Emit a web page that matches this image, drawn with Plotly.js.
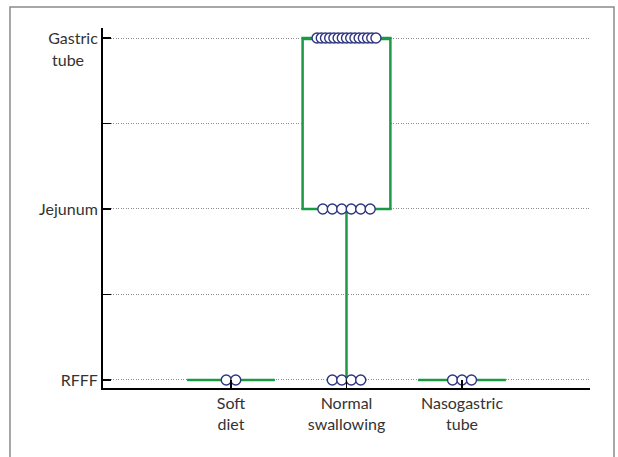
<!DOCTYPE html>
<html>
<head>
<meta charset="utf-8">
<script src="https://cdn.plot.ly/plotly-3.0.1.min.js"></script>
<style>html,body{margin:0;padding:0;background:#fff;}#chart{width:618px;height:457px;}</style>
</head>
<body>
<div id="chart"></div>
<script>
// Categories (x) and ordinal levels (y)
const categories = ['Soft<br>diet', 'Normal<br>swallowing', 'Nasogastric<br>tube'];
const levelValues = [0, 1, 2, 3, 4];
const levelLabels = ['RFFF', '', 'Jejunum', '', 'Gastric'];
// Per-patient outcome (0 = RFFF, 2 = Jejunum, 4 = Gastric tube)
const softDiet = [0, 0];
const normalSwallowing = [0, 0, 0, 0,
  2, 2, 2, 2, 2, 2,
  4, 4, 4, 4, 4, 4, 4, 4, 4, 4, 4, 4, 4, 4, 4];
const nasogastricTube = [0, 0, 0];
const groups = [softDiet, normalSwallowing, nasogastricTube];

const GREEN = '#1b9a45';
const traces = [];

// swarm offsets (derived from counts per level)
function swarm(vals, center) {
  const SP = 0.082, MAXW = 0.51;
  const byLevel = {};
  vals.forEach(v => { (byLevel[v] = byLevel[v] || []).push(v); });
  const xs = [], ys = [];
  Object.keys(byLevel).forEach(k => {
    const n = byLevel[k].length;
    const sp = n > 1 ? Math.min(SP, MAXW / (n - 1)) : 0;
    byLevel[k].forEach((v, i) => { xs.push(center + (i - (n - 1) / 2) * sp); ys.push(v); });
  });
  return {xs, ys};
}

groups.forEach((vals, gi) => {
  const pos = gi + 1;
  traces.push({
    type: 'box',
    x: vals.map(() => pos),
    y: vals,
    width: 0.76,
    boxpoints: false,
    fillcolor: '#ffffff',
    line: {color: GREEN, width: 2.5},
    whiskerwidth: 0.45,
    hoverinfo: 'skip',
    showlegend: false
  });
});
groups.forEach((vals, gi) => {
  const s = swarm(vals, gi + 1);
  traces.push({
    type: 'scatter', mode: 'markers',
    x: s.xs, y: s.ys,
    marker: {size: 10, color: '#ffffff', line: {color: '#2e3580', width: 1.4}},
    showlegend: false, hoverinfo: 'skip', cliponaxis: false
  });
});

const fontFam = 'Lato, "Open Sans", sans-serif';
const FS = 16;
const layout = {
  width: 618, height: 457,
  margin: {l: 103, r: 28, t: 28, b: 69},
  paper_bgcolor: '#ffffff', plot_bgcolor: '#ffffff',
  font: {family: fontFam, size: FS, color: '#333333'},
  xaxis: {
    range: [-0.108, 4.108],
    tickvals: [1, 2, 3], ticktext: categories,
    ticks: 'inside', ticklen: 8, tickwidth: 1.5, tickcolor: '#000',
    showline: true, linecolor: '#000', linewidth: 2,
    showgrid: false, zeroline: false,
    tickfont: {family: fontFam, size: FS, color: '#333'}
  },
  yaxis: {
    range: [-0.094, 4.117],
    tickvals: levelValues, ticktext: levelLabels,
    ticks: 'inside', ticklen: 8, tickwidth: 1.5, tickcolor: '#000',
    showline: true, linecolor: '#000', linewidth: 2,
    showgrid: true, gridcolor: '#8c8c8c', gridwidth: 1, griddash: '1px,1.5px',
    zeroline: false,
    tickfont: {family: fontFam, size: FS, color: '#333'}
  },
  annotations: [{
    xref: 'paper', yref: 'y', x: 0, y: 4, xanchor: 'center', yanchor: 'middle',
    xshift: -35, yshift: -21, text: 'tube', showarrow: false,
    font: {family: fontFam, size: FS, color: '#333'}
  }],
  shapes: [{
    type: 'path', xref: 'paper', yref: 'paper',
    path: 'M -0.191 -0.3 L -0.191 1.0583 L 1.0493 1.0583 L 1.0493 -0.3',
    line: {color: '#8a8a8a', width: 1.5}
  }]
};
Plotly.newPlot('chart', traces, layout, {displayModeBar: false, staticPlot: true});
</script>
</body>
</html>
